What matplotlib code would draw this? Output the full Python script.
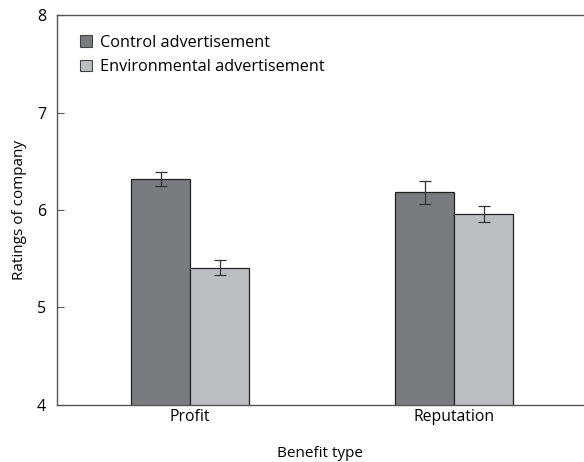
import matplotlib.pyplot as plt
import numpy as np

plt.rcParams['font.family'] = ['Open Sans', 'DejaVu Sans']

benefit = ['Profit', 'Reputation']
control_mean = [6.32, 6.18]
control_err = [0.07, 0.12]
env_mean = [5.41, 5.96]
env_err = [0.08, 0.08]
series_names = ['Control advertisement', 'Environmental advertisement']

fig = plt.figure(figsize=(5.84, 4.62), dpi=100)
ax = fig.add_axes([0.0976, 0.1234, 0.9024, 0.8441])

x = np.arange(len(benefit))
w = 0.2235
ekw = dict(ecolor='#333333', elinewidth=0.9, capsize=4, capthick=0.9)
ax.bar(x - w/2, control_mean, w, yerr=control_err, color='#7a7b7f',
       edgecolor='#222222', linewidth=0.9, label=series_names[0], error_kw=ekw)
ax.bar(x + w/2, env_mean, w, yerr=env_err, color='#bdbec2',
       edgecolor='#222222', linewidth=0.9, label=series_names[1], error_kw=ekw)

ax.set_xlim(-0.504, 1.492)
ax.set_ylim(4, 8)
ax.set_yticks([4, 5, 6, 7, 8])
ax.set_xticks(x)
ax.set_xticklabels(benefit)
ax.tick_params(axis='y', direction='in', length=5, color='#555555', labelsize=11.5, pad=8)
ax.tick_params(axis='x', length=0, labelsize=11.3, pad=3)
for s in ['left', 'bottom', 'top']:
    ax.spines[s].set_color('#555555')
    ax.spines[s].set_linewidth(1.0)
ax.spines['right'].set_visible(False)

ax.set_xlabel('Benefit type', fontsize=11, labelpad=15)
ax.set_ylabel('Ratings of company', fontsize=11, labelpad=7)

# nudge legend a bit right to line up with the original
leg = ax.legend(loc='upper left', bbox_to_anchor=(0.007, 1.0), frameon=False,
                fontsize=11.7, handlelength=0.7, handleheight=0.7,
                handletextpad=0.5, borderaxespad=0.8, labelspacing=0.55)
for h in leg.legend_handles:
    h.set_edgecolor('#444444')
    h.set_linewidth(0.8)

fig.savefig('out.png', dpi=100)
